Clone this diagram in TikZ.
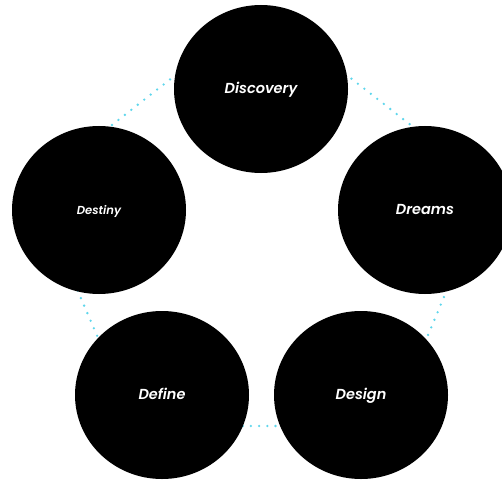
\documentclass[tikz,border=0pt]{standalone}
\usepackage{fontspec}
\newfontfamily\lblfont{Poppins}[UprightFont=*-SemiBold,ItalicFont=*-SemiBoldItalic,BoldFont=*-Bold,BoldItalicFont=*-BoldItalic]
\usetikzlibrary{shapes.geometric}
\definecolor{dotcyan}{RGB}{95,214,236}
\tikzset{
  stage/.style={ellipse, fill=black, draw=none, minimum width=174pt, minimum height=168pt, inner sep=0pt, text=white, text height=2.5ex, text depth=0.35ex},
  biglabel/.style={font=\lblfont\itshape\fontsize{14.5}{16}\selectfont},
  smalllabel/.style={font=\lblfont\itshape\fontsize{11.6}{13}\selectfont},
  ring/.style={draw=dotcyan, line width=2.6pt, line cap=round, dash pattern=on 0pt off 8.2pt},
}
\begin{document}
\begin{tikzpicture}[x=1pt,y=-1pt]
\useasboundingbox (0,0) rectangle (502,481);
\clip (0,0) rectangle (502,481);
\coordinate (p1) at (261,8);
\coordinate (p2) at (490,187);
\coordinate (p3) at (390,426);
\coordinate (p4) at (136,426);
\coordinate (p5) at (33,187);
\draw[ring] (p1) -- (p2) -- (p3) -- (p4) -- (p5) -- cycle;
\node[stage, biglabel] (disc) at (261,89) {Discovery};
\node[stage, biglabel] (dream) at (425,210) {Dreams};
\node[stage, biglabel] (design) at (361,395) {Design};
\node[stage, biglabel] (define) at (162,395) {Define};
\node[stage, smalllabel] (destiny) at (99,210) {Destiny};
\end{tikzpicture}
\end{document}
